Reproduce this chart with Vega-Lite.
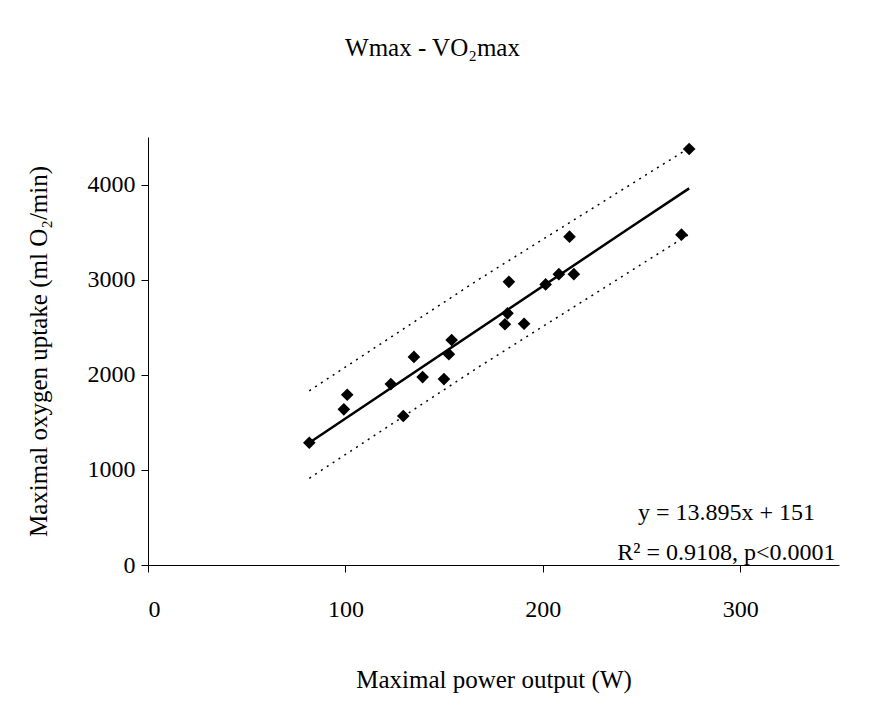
{
  "$schema": "https://vega.github.io/schema/vega-lite/v6.json",
  "width": 691,
  "height": 428,
  "autosize": {"type": "none"},
  "padding": {"left": 148, "top": 137, "right": 30, "bottom": 153},
  "background": "white",
  "config": {
    "view": {"stroke": null},
    "font": "Liberation Serif",
    "axis": {
      "domainColor": "black", "tickColor": "black", "labelColor": "black", "titleColor": "black",
      "grid": false, "labelFont": "Liberation Serif", "titleFont": "Liberation Serif",
      "labelFontSize": 24, "titleFontSize": 25, "titleFontWeight": "normal", "tickSize": 7, "domainWidth": 1, "tickWidth": 1
    }
  },
  "title": {
    "text": "Wmax - VO₂max",
    "font": "Liberation Serif", "fontSize": 25, "fontWeight": "normal", "color": "black",
    "anchor": "middle", "dx": -61, "offset": 76
  },
  "datasets": {
    "points": [
      {"power": 81.7, "vo2": 1285},
      {"power": 99.2, "vo2": 1637},
      {"power": 100.9, "vo2": 1790},
      {"power": 123.0, "vo2": 1902},
      {"power": 129.3, "vo2": 1567},
      {"power": 134.7, "vo2": 2188},
      {"power": 139.1, "vo2": 1976},
      {"power": 149.9, "vo2": 1955},
      {"power": 152.4, "vo2": 2217},
      {"power": 153.8, "vo2": 2366},
      {"power": 180.8, "vo2": 2531},
      {"power": 182.1, "vo2": 2646},
      {"power": 182.8, "vo2": 2977},
      {"power": 190.5, "vo2": 2537},
      {"power": 201.4, "vo2": 2950},
      {"power": 208.1, "vo2": 3058},
      {"power": 213.5, "vo2": 3452},
      {"power": 215.7, "vo2": 3058},
      {"power": 274.1, "vo2": 4374},
      {"power": 270.2, "vo2": 3473}
    ],
    "fit": [
      {"power": 81.7, "vo2": 1286},
      {"power": 242.4, "vo2": 3522},
      {"power": 274.1, "vo2": 3960}
    ],
    "bands": [
      {"band": "upper", "power": 81.7, "vo2": 1832},
      {"band": "upper", "power": 168.1, "vo2": 3010},
      {"band": "upper", "power": 274.1, "vo2": 4385},
      {"band": "lower", "power": 81.7, "vo2": 912},
      {"band": "lower", "power": 168.1, "vo2": 2090},
      {"band": "lower", "power": 274.1, "vo2": 3478}
    ]
  },
  "layer": [
    {
      "data": {"name": "bands"},
      "mark": {"type": "line", "color": "black", "strokeWidth": 1.5, "strokeDash": [2, 5]},
      "encoding": {
        "x": {"field": "power", "type": "quantitative", "scale": {"domain": [0, 350], "nice": false},
          "axis": {"values": [0, 100, 200, 300], "format": "d", "title": "Maximal power output (W)", "labelPadding": 25, "titlePadding": 46}},
        "y": {"field": "vo2", "type": "quantitative", "scale": {"domain": [0, 4500], "nice": false},
          "axis": {"values": [0, 1000, 2000, 3000, 4000], "format": "d", "title": "Maximal oxygen uptake (ml O₂/min)", "labelPadding": 6, "titlePadding": 36}},
        "detail": {"field": "band"}
      }
    },
    {
      "data": {"name": "fit"},
      "mark": {"type": "line", "color": "black", "strokeWidth": 2.5},
      "encoding": {
        "x": {"field": "power", "type": "quantitative"},
        "y": {"field": "vo2", "type": "quantitative"}
      }
    },
    {
      "data": {"name": "points"},
      "mark": {"type": "point", "shape": "diamond", "filled": true, "color": "black", "opacity": 1, "size": 160},
      "encoding": {
        "x": {"field": "power", "type": "quantitative"},
        "y": {"field": "vo2", "type": "quantitative"}
      }
    },
    {
      "data": {"values": [
        {"power": 293, "vo2": 545, "label": "y = 13.895x + 151"},
        {"power": 293, "vo2": 126, "label": "R² = 0.9108, p<0.0001"}
      ]},
      "mark": {"type": "text", "font": "Liberation Serif", "fontSize": 24, "color": "black", "align": "center", "baseline": "middle"},
      "encoding": {
        "x": {"field": "power", "type": "quantitative"},
        "y": {"field": "vo2", "type": "quantitative"},
        "text": {"field": "label"}
      }
    }
  ]
}
